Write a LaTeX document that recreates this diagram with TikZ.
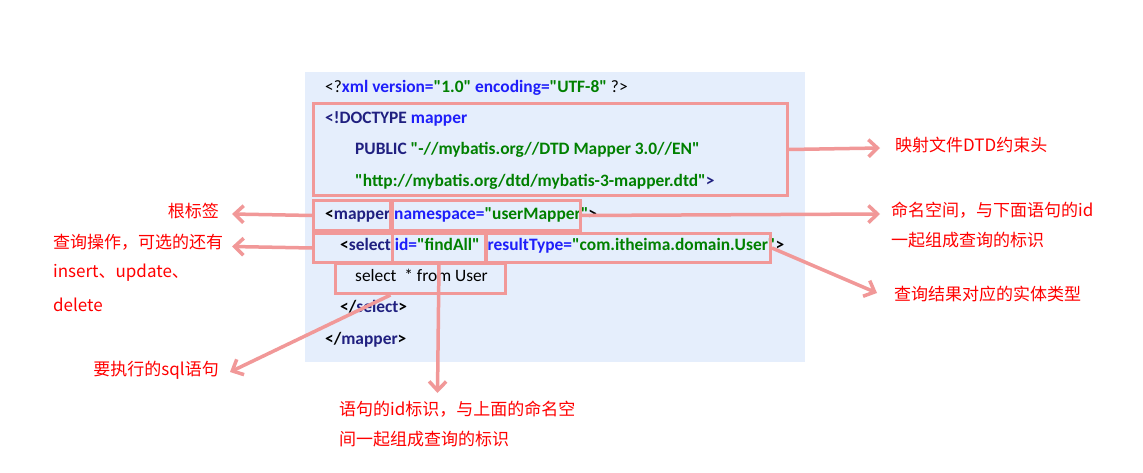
\documentclass[tikz,border=0pt]{standalone}
\usepackage{fontspec}
\setmainfont{Carlito}
\newfontfamily\codefont{Carlito}
\newfontfamily\cjk{Noto Sans CJK SC}
\usetikzlibrary{arrows.meta}
\definecolor{panel}{RGB}{229,238,252}
\definecolor{pinkc}{RGB}{241,152,152}
\definecolor{navy}{RGB}{32,32,128}
\definecolor{attrc}{RGB}{30,30,250}
\definecolor{valg}{RGB}{0,128,0}
\definecolor{labred}{RGB}{255,0,0}
\newcommand\xtag[1]{\textcolor{navy}{\bfseries #1}}
\newcommand\xattr[1]{\textcolor{attrc}{\bfseries #1}}
\newcommand\xval[1]{\textcolor{valg}{\bfseries #1}}
\newcommand\xbr[1]{{\bfseries #1}}
\begin{document}
\begin{tikzpicture}[x=1pt,y=-1pt,
 code/.style={anchor=base west, inner sep=0pt, font=\codefont\fontsize{17.4}{20}\selectfont},
 hl/.style={draw=pinkc, line width=3pt, inner sep=0pt, anchor=north west},
 lab/.style={text=labred, inner sep=0pt, font=\cjk\fontsize{17}{20}\selectfont},
 arr/.style={draw=pinkc, line width=3.5pt, -{Straight Barb[length=9pt,width=17pt]}}
]
\useasboundingbox (0,0) rectangle (1143,473);
\fill[white] (0,0) rectangle (1143,473);
\node[fill=panel, anchor=north west, minimum width=500pt, minimum height=290pt, inner sep=0pt] (panel) at (305,72) {};

% code lines
\node[code] (l1) at (325,92.5) {<?\xattr{xml version=}\xval{"1.0"} \xattr{encoding=}\xval{"UTF-8"} ?>};
\node[code] (l2) at (325,124) {\xtag{<!DOCTYPE} \xattr{mapper}};
\node[code] (l3) at (355,155) {\xtag{PUBLIC} \xval{"-//mybatis.org//DTD Mapper 3.0//EN"}};
\node[code] (l4) at (355,186.5) {\xval{"http://mybatis.org/dtd/mybatis-3-mapper.dtd"}\xtag{>}};
\node[code] (l5) at (325,219.5) {\xbr{<}\xtag{mapper} \xattr{namespace=}\xval{"userMapper"}\xbr{>}};
\node[code] (l6) at (340,250.5) {\xbr{<}\xtag{select} \xattr{id=}\xval{"findAll"}\ \ \xattr{resultType=}\xval{"com.itheima.domain.User"}\xbr{>}};
\node[code] (l7) at (355,281.5) {select\ \ * from User};
\node[code] (l8) at (340,312.5) {\xbr{</}\xtag{select}\xbr{>}};
\node[code] (l9) at (325,344) {\xbr{</}\xtag{mapper}\xbr{>}};

% highlight boxes
\node[hl, minimum width=474pt, minimum height=92pt] (bdoc) at (312,102) {};
\node[hl, minimum width=77pt, minimum height=30pt] (bmap) at (312,199) {};
\node[hl, minimum width=188pt, minimum height=30pt] (bns) at (391,199) {};
\node[hl, minimum width=79pt, minimum height=29pt] (bsel) at (312,232) {};
\node[hl, minimum width=93pt, minimum height=29pt] (bid) at (391,232) {};
\node[hl, minimum width=284pt, minimum height=29pt] (brt) at (485,232) {};
\node[hl, minimum width=170pt, minimum height=30pt] (bsql) at (334,262) {};

% labels
\node[lab, anchor=west] (ldtd) at (895,145) {映射文件DTD约束头};
\node[lab, anchor=west] (lns) at (891,210) {命名空间，与下面语句的id};
\node[lab, anchor=west] (lns2) at (891,240.5) {一起组成查询的标识};
\node[lab, anchor=west] (lrt) at (894,294.5) {查询结果对应的实体类型};
\node[lab, anchor=east] (lroot) at (219,211) {根标签};
\node[lab, anchor=west] (lsel) at (53,242) {查询操作，可选的还有};
\node[lab, anchor=west] (lsel2) at (53,273) {insert、update、};
\node[lab, anchor=west] (lsel3) at (53,305) {delete};
\node[lab, anchor=east] (lsql) at (219,370.5) {要执行的sql语句};
\node[lab, anchor=west] (lid) at (339,409.5) {语句的id标识，与上面的命名空};
\node[lab, anchor=west] (lid2) at (339,439.5) {间一起组成查询的标识};

% arrows
\coordinate (tdtd) at (880,148);
\coordinate (tns) at (880,214);
\coordinate (trt) at (877,293);
\coordinate (troot) at (232,214);
\coordinate (tsel) at (232,246.5);
\coordinate (tsql) at (230,372);
\coordinate (tid) at (437.5,393);
\draw[arr] (bdoc.east) -- (tdtd);
\draw[arr] (bns.east) -- (tns);
\draw[arr] (brt.east) -- (trt);
\draw[arr] (bmap.west) -- (troot);
\draw[arr] (bsel.west) -- (tsel);
\draw[arr] ([xshift=-30pt]bsql.south) -- (tsql);
\draw[arr] (bid.south) -- (tid);
\end{tikzpicture}
\end{document}
